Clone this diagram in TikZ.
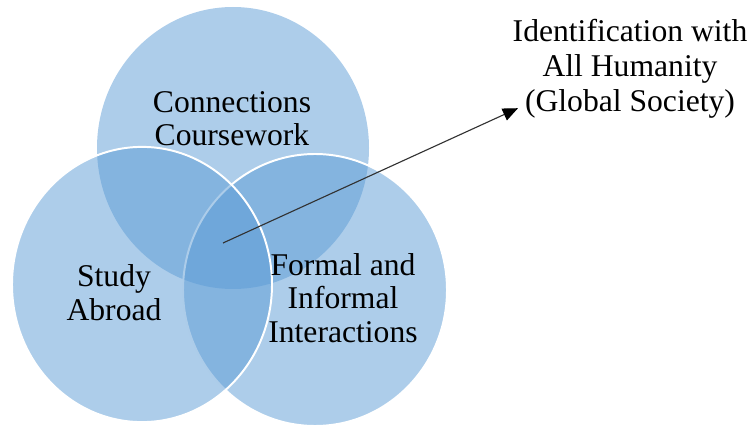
\documentclass[tikz,border=0pt]{standalone}
\usepackage{fontspec}
\setmainfont{Liberation Serif}
\usetikzlibrary{arrows.meta}
\definecolor{vennblue}{RGB}{91,155,213}
\definecolor{pointer}{RGB}{50,50,50}

\begin{document}
\begin{tikzpicture}[
  ring/.style={fill=vennblue, fill opacity=0.5},
  rim/.style={ring, draw=white, line width=1.4pt},
  label/.style={align=center, anchor=base, inner sep=0pt, font=\fontsize{22.5}{23.8}\selectfont},
  arrow/.style={-{Triangle[length=0.38cm, width=0.32cm, black]}, pointer, line width=0.8pt}
]
\useasboundingbox (0,0) rectangle (18.875,10.675);

% Three overlapping circles, back to front
\fill[ring] (5.825,6.975) ellipse [x radius=3.4, y radius=3.525];
\draw[rim] (7.875,3.425) ellipse [x radius=3.3, y radius=3.4];
\draw[rim] (3.55,3.5625) ellipse [x radius=3.25, y radius=3.44];

% Circle labels (base = last line)
\node[label] (coursework) at (5.8,7.03) {Connections\\Coursework};
\node[label] (abroad) at (2.85,2.675) {Study\\Abroad};
\node[label] (interact) at (8.575,2.125) {Formal and\\Informal\\Interactions};

% Outcome and pointer from the common area
\node[label, font=\fontsize{22.5}{24.9}\selectfont] (humanity) at (15.75,7.875)
  {Identification with\\All Humanity\\(Global Society)};
\coordinate (core) at (5.575,4.6);
\coordinate (goal) at (12.95,7.97);
\draw[arrow] (core) -- (goal);
\end{tikzpicture}
\end{document}
